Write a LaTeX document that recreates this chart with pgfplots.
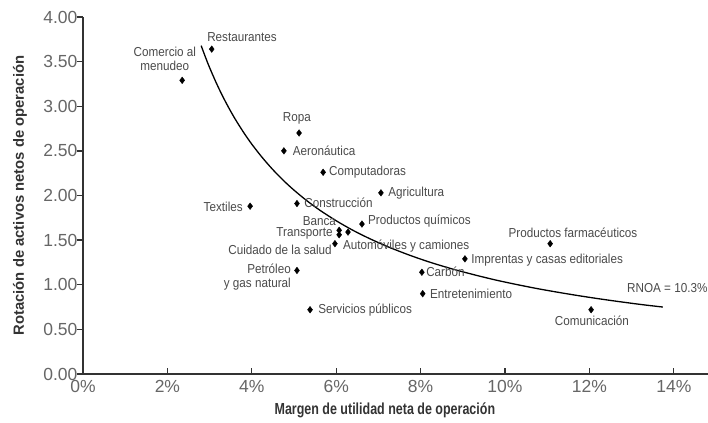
\documentclass[border=0pt]{standalone}
\usepackage{fontspec}
\setmainfont[FakeStretch=0.9]{Liberation Sans}
\newfontfamily\tickfont{Liberation Sans}
\newfontfamily\xlabfont[FakeStretch=0.78]{Liberation Sans}
\usepackage{pgfplots}
\usepackage{pgfplotstable}
\pgfplotsset{compat=1.18}

\pgfplotstableread{
x y
3.05 3.64
2.35 3.29
5.12 2.70
4.76 2.50
5.69 2.26
7.06 2.03
3.96 1.88
5.07 1.91
6.61 1.68
6.07 1.61
6.07 1.56
6.28 1.59
5.97 1.46
5.07 1.16
5.38 0.72
8.03 1.14
8.05 0.90
9.05 1.29
11.07 1.46
12.04 0.72
}\pts

\pgfplotstableread{
x y
2.80 3.679
2.90 3.552
3.00 3.433
3.15 3.270
3.30 3.121
3.45 2.986
3.60 2.861
3.80 2.711
4.00 2.575
4.25 2.424
4.50 2.289
4.75 2.168
5.00 2.060
5.30 1.943
5.60 1.839
6.00 1.717
6.40 1.609
6.80 1.515
7.25 1.421
7.75 1.329
8.25 1.248
8.75 1.177
9.25 1.114
9.75 1.056
10.25 1.005
10.75 0.958
11.25 0.916
11.75 0.877
12.25 0.841
12.75 0.808
13.25 0.777
13.74 0.750
}\rnoa

\definecolor{axcol}{HTML}{333333}
\definecolor{txtcol}{HTML}{4A4A4A}
\definecolor{tickcol}{HTML}{666666}
\tikzset{lbl/.style={font=\fontsize{13}{13.5}\selectfont, text=txtcol, inner sep=0pt}}

\begin{document}
\begin{tikzpicture}
\begin{axis}[
  name=ax,
  scale only axis,
  width=625pt, height=357pt,
  xmin=0, xmax=14.81, ymin=0, ymax=4,
  clip=false,
  axis x line=bottom, axis y line=left,
  axis line style={-, line width=1.6pt, color=axcol},
  xtick={0,2,4,6,8,10,12,14},
  xticklabels={0\%,2\%,4\%,6\%,8\%,10\%,12\%,14\%},
  ytick={0,0.5,1,1.5,2,2.5,3,3.5,4},
  yticklabels={0.00,0.50,1.00,1.50,2.00,2.50,3.00,3.50,4.00},
  tick align=inside,
  major tick length=6pt,
  every tick/.style={line width=1.3pt, color=axcol},
  y tick style={xshift=-6pt},
  tick label style={font=\tickfont\fontsize{17.5}{17.5}\selectfont, text=tickcol},
  xticklabel style={yshift=-3pt},
  yticklabel style={xshift=-2pt},
  xlabel={Margen de utilidad neta de operación},
  xlabel style={font=\xlabfont\bfseries\fontsize{16}{16}\selectfont, text=axcol, at={(axis description cs:0.483,-0.1008)}, anchor=center},
  ylabel={Rotación de activos netos de operación},
  ylabel style={font=\tickfont\bfseries\fontsize{14.8}{15}\selectfont, text=axcol, at={(axis description cs:-0.1008,0.5)}, anchor=center},
]
\addplot[black, line width=1.3pt, smooth, no marks] table {\rnoa};
\addplot[only marks, mark=diamond*, mark size=3.3pt, black] table {\pts};

\node[lbl, anchor=west] at (axis cs:2.94,3.776) {Restaurantes};
\node[lbl, align=center] at (axis cs:1.94,3.53) {Comercio al\\menudeo};
\node[lbl] at (axis cs:5.07,2.868) {Ropa};
\node[lbl, anchor=west] at (axis cs:4.97,2.499) {Aeronáutica};
\node[lbl, anchor=west] at (axis cs:5.83,2.263) {Computadoras};
\node[lbl, anchor=west] at (axis cs:7.23,2.028) {Agricultura};
\node[lbl, anchor=east] at (axis cs:3.79,1.871) {Textiles};
\node[lbl, anchor=west] at (axis cs:5.24,1.916) {Construcción};
\node[lbl, anchor=east] at (axis cs:6.0,1.714) {Banca};
\node[lbl, anchor=east] at (axis cs:5.92,1.58) {Transporte};
\node[lbl, anchor=west] at (axis cs:6.75,1.714) {Productos químicos};
\node[lbl, anchor=west] at (axis cs:6.16,1.434) {Automóviles y camiones};
\node[lbl, anchor=east] at (axis cs:5.90,1.389) {Cuidado de la salud};
\node[lbl, anchor=east, align=right] at (axis cs:4.93,1.087) {Petróleo\\y gas natural};
\node[lbl, anchor=west] at (axis cs:5.57,0.717) {Servicios públicos};
\node[lbl, anchor=west] at (axis cs:8.13,1.143) {Carbón};
\node[lbl, anchor=west] at (axis cs:8.22,0.896) {Entretenimiento};
\node[lbl, anchor=west] at (axis cs:9.2,1.277) {Imprentas y casas editoriales};
\node[lbl] at (axis cs:11.61,1.58) {Productos farmacéuticos};
\node[lbl] at (axis cs:12.06,0.594) {Comunicación};
\node[lbl, anchor=west] at (axis cs:12.89,0.964) {RNOA = 10.3\%};
\end{axis}
\pgfresetboundingbox
\path[use as bounding box] ([xshift=-83pt,yshift=-49pt]ax.south west) rectangle ([yshift=17pt]ax.north east);
\end{tikzpicture}
\end{document}
